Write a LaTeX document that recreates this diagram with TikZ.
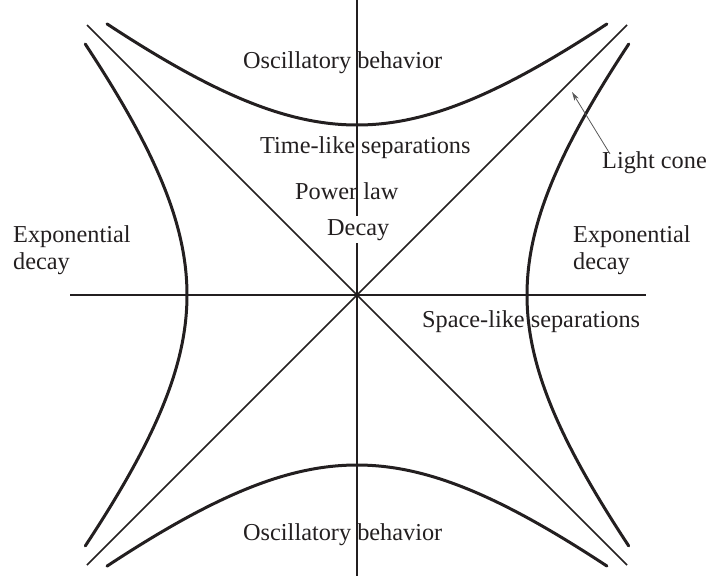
\documentclass[tikz,border=0pt]{standalone}
\usepackage{fontspec}
\setmainfont{Liberation Serif}
\usetikzlibrary{arrows.meta, positioning}
\definecolor{cink}{RGB}{35,31,32}
\definecolor{cgray}{gray}{0.35}

\begin{document}
\begin{tikzpicture}[
    x=1pt, y=-1pt,
    lbl/.style={inner sep=0pt, anchor=base west, text=cink, font=\fontsize{24.3}{27}\selectfont},
    twoline/.style={lbl, anchor=north west, align=left},
    axisline/.style={draw=cink, line width=2.2pt},
    conline/.style={draw=cink, line width=1.5pt},
    hypline/.style={draw=cink, line width=3pt, line cap=round, smooth, samples=80},
    pointer/.style={draw=cgray, line width=0.8pt, -{Stealth[length=9pt, width=5pt]}}
]
\useasboundingbox (0,0) rectangle (707,576);
% axes and light cone
\draw[axisline] (357,0) -- (357,576);
\draw[axisline] (70,295) -- (646,295);
\draw[conline] (87,25) -- (627,565);
\draw[conline] (627,25) -- (87,565);
% hyperbolas
\draw[hypline] plot[domain=-2.5:2.5] ({357+100*\x}, {295-170*sqrt(1+\x*\x/4.05)});
\draw[hypline] plot[domain=-2.5:2.5] ({357+100*\x}, {295+170*sqrt(1+\x*\x/4.05)});
\draw[hypline] plot[domain=-2.51:2.51] ({357-170*sqrt(1+\x*\x/4.05)}, {295+100*\x});
\draw[hypline] plot[domain=-2.51:2.51] ({357+170*sqrt(1+\x*\x/4.05)}, {295+100*\x});
% labels
\node[lbl] (osctop) at (243,68) {Oscillatory behavior};
\node[lbl] (timelike) at (260,153) {Time-like separations};
\node[lbl] (power) at (295,199) {Power law};
\node[lbl, fill=white, inner sep=3pt] (decay) at (324,235) {Decay};
\node[twoline] (expleft) at (13,225) {Exponential\\decay};
\node[twoline] (expright) at (573,225) {Exponential\\decay};
\node[lbl] (spacelike) at (422,327) {Space-like separations};
\node[lbl] (oscbot) at (243,540) {Oscillatory behavior};
\node[lbl] (lightcone) at (602,168) {Light cone};
\coordinate (conept) at (572,92);
\draw[pointer] ([xshift=8pt, yshift=-3pt]lightcone.north west) -- (conept);
\end{tikzpicture}
\end{document}
